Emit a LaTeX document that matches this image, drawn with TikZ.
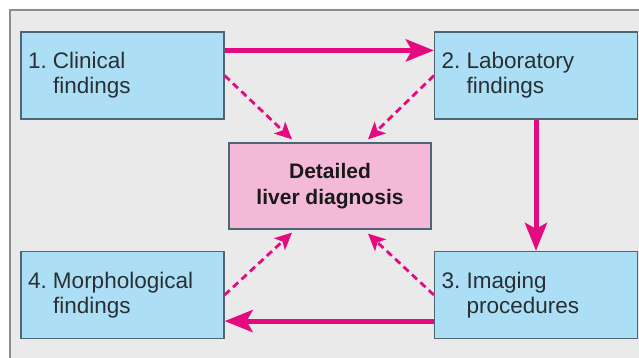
\documentclass[tikz,border=0pt]{standalone}
\usepackage{fontspec}
\setmainfont{Liberation Sans}
\usetikzlibrary{arrows.meta,calc}
\definecolor{framebg}{HTML}{EAEAEA}
\definecolor{frameline}{HTML}{8C8C8C}
\definecolor{boxblue}{HTML}{ACDFF5}
\definecolor{boxline}{HTML}{4E6674}
\definecolor{boxpink}{HTML}{F4B9D8}
\definecolor{arrowmag}{HTML}{E40A80}
\definecolor{txt}{HTML}{2A2F33}
\tikzset{
  findbox/.style={rectangle, draw=boxline, line width=1.2pt, fill=boxblue,
    minimum width=203pt, minimum height=87pt, text width=189pt, inner xsep=7pt,
    align=left, text=txt, font=\fontsize{22.5}{25}\selectfont},
  diagbox/.style={rectangle, draw=boxline, line width=1.2pt, fill=boxpink,
    minimum width=202pt, minimum height=86pt, align=center, text=black!90,
    font=\fontsize{21}{26}\selectfont\bfseries},
  mainarrow/.style={draw=arrowmag, line width=5pt,
    -{Stealth[length=28pt, width=22pt, inset=6pt]}},
  sidearrow/.style={draw=arrowmag, line width=2.8pt, dash pattern=on 7pt off 4.5pt,
    -{Stealth[length=17pt, width=16pt, inset=4pt]}}
}
\newcommand{\numtxt}[3]{\makebox[25pt][l]{#1}#2\\\hspace*{25pt}#3}
\begin{document}
\begin{tikzpicture}[x=1pt,y=-1pt]
\useasboundingbox (0,0) rectangle (639,358);
\fill[white] (0,0) rectangle (639,358);
\begin{scope}
\clip (0,0) rectangle (639,358);
\draw[frameline, fill=framebg, line width=1.5pt] (10,10) rectangle (660,380);
\end{scope}
\node[findbox] (b1) at (122.5,75.5) {\numtxt{1.}{Clinical}{findings}};
\node[findbox] (b2) at (536,75.5) {\numtxt{2.}{Laboratory}{findings}};
\node[findbox] (b3) at (536,295) {\numtxt{3.}{Imaging}{procedures}};
\node[findbox] (b4) at (122.5,295) {\numtxt{4.}{Morphological}{findings}};
\node[diagbox] (d) at (330,186) {Detailed\\liver diagnosis};
% solid flow arrows
\coordinate (t1) at ($(b1.north east)+(0,19)$);
\coordinate (t2) at ($(b2.north west)+(0,19)$);
\draw[mainarrow] (t1) -- (t2);
\draw[mainarrow] (b2.south) -- (b3.north);
\coordinate (u3) at ($(b3.south west)+(0,-18)$);
\coordinate (u4) at ($(b4.south east)+(0,-18)$);
\draw[mainarrow] (u3) -- (u4);
% dashed arrows to diagnosis
\coordinate (e1) at ($(d.north)+(-38,-3)$);
\coordinate (e2) at ($(d.north)+(38,-3)$);
\coordinate (e3) at ($(d.south)+(38,4)$);
\coordinate (e4) at ($(d.south)+(-38,3)$);
\draw[sidearrow] (b1.east) -- (e1);
\draw[sidearrow] (b2.west) -- (e2);
\draw[sidearrow] (b3.west) -- (e3);
\draw[sidearrow] (b4.east) -- (e4);
\end{tikzpicture}
\end{document}
